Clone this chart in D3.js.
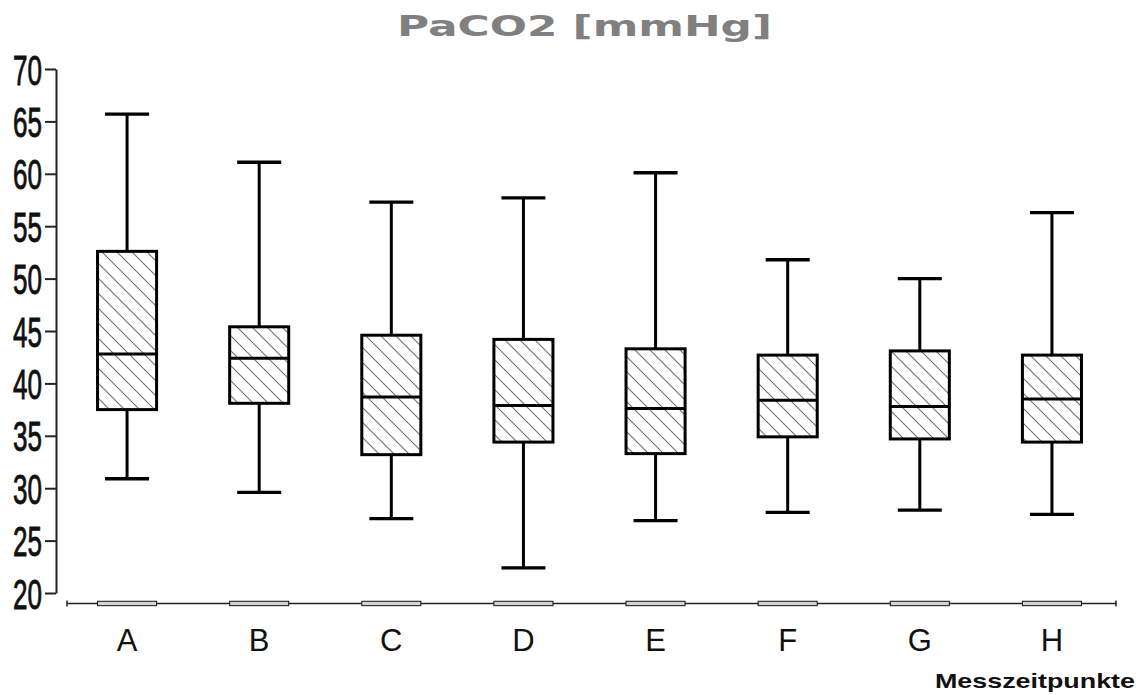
<!DOCTYPE html>
<html>
<head>
<meta charset="utf-8">
<script src="https://cdn.jsdelivr.net/npm/d3@7"></script>
<style>
  html, body { margin: 0; padding: 0; background: #fff; }
</style>
</head>
<body>
<div id="chart"></div>
<script>
// PaCO2 box plots per measuring time point

const categories = ["A", "B", "C", "D", "E", "F", "G", "H"];
const whiskerHigh = [65.7, 61.1, 57.3, 57.7, 60.1, 51.8, 50.0, 56.3];
const q3 = [52.6, 45.4, 44.6, 44.2, 43.3, 42.7, 43.1, 42.7];
const median = [42.8, 42.4, 38.7, 37.9, 37.6, 38.4, 37.8, 38.5];
const q1 = [37.5, 38.1, 33.2, 34.4, 33.3, 34.9, 34.7, 34.4];
const whiskerLow = [30.9, 29.6, 27.1, 22.4, 26.9, 27.7, 27.9, 27.5];
const yTicks = [20, 25, 30, 35, 40, 45, 50, 55, 60, 65, 70];

const width = 1142, height = 695;

const data = categories.map((c, i) => ({
  cat: c, hi: whiskerHigh[i], q3: q3[i], med: median[i], q1: q1[i], lo: whiskerLow[i]
}));

const svg = d3.select("#chart")
  .append("svg")
    .attr("width", width)
    .attr("height", height);

// hatch pattern
svg.append("defs")
  .append("pattern")
    .attr("id", "hatch")
    .attr("patternUnits", "userSpaceOnUse")
    .attr("width", 15)
    .attr("height", 15)
  .append("path")
    .attr("d", "M0,0 L15,15 M-2,13 L2,17 M13,-2 L17,2")
    .attr("stroke", "#707070")
    .attr("stroke-width", 1.1);

// scales
const x = d3.scaleBand()
  .domain(categories)
  .range([61, 1118]);

const y = d3.scaleLinear()
  .domain([20, 70])
  .range([593, 69]);

const boxW = x.bandwidth() * 0.447;
const capW = x.bandwidth() * 0.333;
const baseY = y(19);

// title
svg.append("text")
  .attr("x", 397)
  .attr("y", 36)
  .attr("textLength", 375)
  .attr("lengthAdjust", "spacingAndGlyphs")
  .style("font-family", "'DejaVu Sans', sans-serif")
  .style("font-weight", "bold")
  .style("font-size", "29px")
  .style("fill", "#808080")
  .text("PaCO2 [mmHg]");

// y axis
const yAxis = svg.append("g")
  .attr("transform", "translate(56,0)")
  .call(d3.axisLeft(y).tickValues(yTicks).tickSize(11).tickSizeOuter(0));

yAxis.select(".domain")
  .attr("stroke", "#222")
  .attr("stroke-width", 2);
yAxis.selectAll(".tick line")
  .attr("stroke", "#222")
  .attr("stroke-width", 2);
yAxis.selectAll(".tick text")
  .attr("transform", "scale(0.62,1)")
  .attr("x", -14 / 0.62)
  .attr("dy", "0.36em")
  .attr("fill", "#111")
  .attr("stroke", "#111")
  .attr("stroke-width", 0.9)
  .style("font-family", "'Liberation Sans', Arial, sans-serif")
  .style("font-size", "42px");

// x baseline
svg.append("line")
  .attr("x1", 67).attr("x2", 1116)
  .attr("y1", baseY).attr("y2", baseY)
  .attr("stroke", "#222")
  .attr("stroke-width", 1.5);

[67, 1116].forEach(px => {
  svg.append("line")
    .attr("x1", px).attr("x2", px)
    .attr("y1", baseY - 3).attr("y2", baseY + 3)
    .attr("stroke", "#222")
    .attr("stroke-width", 1.5);
});

const cx = d => x(d.cat) + x.bandwidth() / 2;

// small markers on the baseline
svg.selectAll(".base-rect")
  .data(data)
  .enter()
  .append("rect")
    .attr("x", d => cx(d) - boxW / 2)
    .attr("y", baseY - 2.2)
    .attr("width", boxW)
    .attr("height", 4.4)
    .attr("fill", "#d4d4d4")
    .attr("stroke", "#111")
    .attr("stroke-width", 1);

// category labels
svg.selectAll(".cat-label")
  .data(data)
  .enter()
  .append("text")
    .attr("x", d => cx(d))
    .attr("y", 651)
    .attr("text-anchor", "middle")
    .style("font-family", "'Liberation Sans', Arial, sans-serif")
    .style("font-size", "31px")
    .style("fill", "#111")
    .text(d => d.cat);

const boxes = svg.selectAll(".box")
  .data(data)
  .enter()
  .append("g");

// whiskers
boxes.append("line")
  .attr("x1", d => cx(d)).attr("x2", d => cx(d))
  .attr("y1", d => y(d.hi)).attr("y2", d => y(d.q3))
  .attr("stroke", "#000").attr("stroke-width", 3);

boxes.append("line")
  .attr("x1", d => cx(d)).attr("x2", d => cx(d))
  .attr("y1", d => y(d.q1)).attr("y2", d => y(d.lo))
  .attr("stroke", "#000").attr("stroke-width", 3);

// caps
boxes.append("line")
  .attr("x1", d => cx(d) - capW / 2).attr("x2", d => cx(d) + capW / 2)
  .attr("y1", d => y(d.hi)).attr("y2", d => y(d.hi))
  .attr("stroke", "#000").attr("stroke-width", 3.3);

boxes.append("line")
  .attr("x1", d => cx(d) - capW / 2).attr("x2", d => cx(d) + capW / 2)
  .attr("y1", d => y(d.lo)).attr("y2", d => y(d.lo))
  .attr("stroke", "#000").attr("stroke-width", 3.3);

// boxes
boxes.append("rect")
  .attr("x", d => cx(d) - boxW / 2)
  .attr("y", d => y(d.q3))
  .attr("width", boxW)
  .attr("height", d => y(d.q1) - y(d.q3))
  .attr("fill", "url(#hatch)")
  .attr("stroke", "#000")
  .attr("stroke-width", 3);

// medians
boxes.append("line")
  .attr("x1", d => cx(d) - boxW / 2).attr("x2", d => cx(d) + boxW / 2)
  .attr("y1", d => y(d.med)).attr("y2", d => y(d.med))
  .attr("stroke", "#000").attr("stroke-width", 3);

// x axis title
svg.append("text")
  .attr("x", 935)
  .attr("y", 688)
  .attr("textLength", 200)
  .attr("lengthAdjust", "spacingAndGlyphs")
  .style("font-family", "'Liberation Sans', Arial, sans-serif")
  .style("font-weight", "bold")
  .style("font-size", "21px")
  .style("fill", "#111")
  .text("Messzeitpunkte");
</script>
</body>
</html>
